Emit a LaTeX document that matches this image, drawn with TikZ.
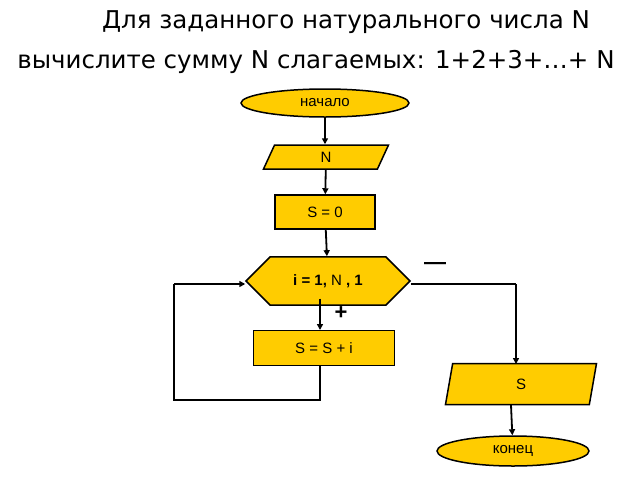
\documentclass[tikz,border=0pt]{standalone}
\usepackage{fontspec}
\setmainfont{Liberation Sans}
\newfontfamily\titlefont{DejaVu Sans}
\usetikzlibrary{shapes.geometric,shapes.misc,arrows.meta}
\definecolor{blockfill}{HTML}{FFCC00}
\tikzset{
	block/.style={draw,line width=1.5pt,fill=blockfill,font=\fontsize{15}{17}\selectfont,inner sep=0pt},
	term/.style={block,ellipse},
	io/.style={block,trapezium,trapezium stretches body},
	loopbox/.style={block,chamfered rectangle,chamfered rectangle corners={north west,south west,north east,south east}},
	flow/.style={line width=1.8pt,-{Triangle[length=6pt,width=6pt]}}
}
\begin{document}
\begin{tikzpicture}[x=1pt,y=-1pt]
	\useasboundingbox (0,0) rectangle (640,480);
	% title
	\node[font=\titlefont\fontsize{24.5}{28}\selectfont] (title1) at (346,22) {Для заданного натурального числа N};
	\node[font=\titlefont\fontsize{24.5}{28}\selectfont] (title2) at (316,62) {вычислите сумму N слагаемых: 1+2+3+…+ N};
	% blocks
	\node[term,minimum width=168pt,minimum height=28pt] (start) at (325,103) {начало};
	\node[io,trapezium left angle=43,trapezium right angle=137,minimum width=125pt,minimum height=24pt] (inN) at (326,157) {N};
	\node[block,minimum width=100pt,minimum height=34pt] (init) at (325,212) {S = 0};
	\node[loopbox,chamfered rectangle xsep=39pt,chamfered rectangle ysep=17.5pt,minimum width=164pt,minimum height=35pt] (loop) at (328,281) {\textbf{i = 1,} N \textbf{, 1}};
	\node[block,minimum width=141pt,minimum height=35pt] (sum) at (324,348) {S = S + i};
	\node[io,trapezium left angle=56,trapezium right angle=124,minimum width=151pt,minimum height=41pt] (outS) at (521,384) {S};
	\node[term,minimum width=152pt,minimum height=30pt] (stop) at (513,451) {конец};
	\node[font=\fontsize{22}{22}\selectfont\bfseries] (minus) at (435,266) {---};
	\node[font=\fontsize{22}{22}\selectfont\bfseries] (plus) at (341,313) {+};
	% connectors
	\coordinate (back1) at (320,400);
	\coordinate (back2) at (174,400);
	\coordinate (back3) at (174,284);
	\coordinate (exit1) at (516,284);
	\draw[flow] (start) -- (start |- inN.north);
	\draw[flow] (inN) -- (init);
	\draw[flow] (init) -- (loop);
	\draw[flow] (320,298.5) -- (320,330);
	\draw[line width=1.8pt] (320,365) -- (back1) -- (back2) -- (back3);
	\draw[flow] (back3) -- (loop.west |- back3);
	\draw[line width=1.8pt] (loop.east |- exit1) -- (exit1);
	\draw[flow] (exit1) -- (516,364);
	\draw[flow] (511,405) -- (stop);
\end{tikzpicture}
\end{document}
